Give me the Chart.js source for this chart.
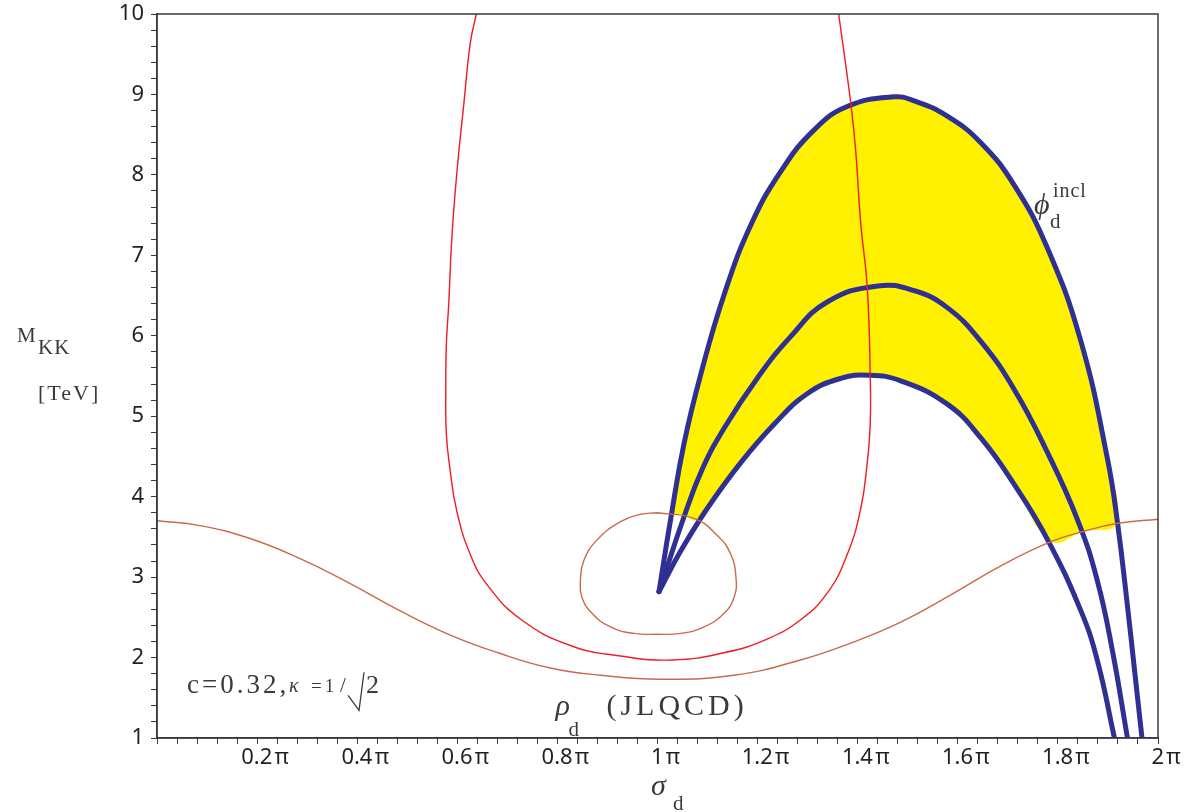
<!DOCTYPE html>
<html>
<head>
    <meta charset="UTF-8">
    <title>M_KK vs sigma_d</title>
    <script src="https://cdn.jsdelivr.net/npm/chart.js@4.4.1/dist/chart.umd.min.js"></script>
    <style type="text/css">
        body { margin: 0; background: #fff; }
        #plot { display: block; }
    </style>
</head>
<body>
    <canvas id="plot" width="1185" height="812"></canvas>
    <script type="text/javascript">
        // x in units of pi, y = M_KK in TeV
        var xMin = 0, xMax = 2, xStep = 0.04;
        var yMin = 1, yMax = 10, yStep = 0.2;

        // red contour (U shape)
        var redSigma = [0.638, 0.626, 0.613, 0.599, 0.589, 0.583, 0.578, 0.577, 0.578, 0.585, 0.599, 0.626, 0.659, 0.726, 0.826, 0.926,
                        1.030, 1.133, 1.219, 1.286, 1.339, 1.379, 1.406, 1.419, 1.425, 1.425, 1.419, 1.406, 1.396, 1.387, 1.362];
        var redMass = [10.0, 9.64, 8.88, 8.02, 7.21, 6.41, 5.87, 5.32, 4.79, 4.36, 3.82, 3.28, 2.91, 2.48, 2.15, 2.02,
                       1.97, 2.06, 2.23, 2.47, 2.80, 3.28, 3.85, 4.42, 4.90, 5.51, 6.61, 7.40, 8.30, 8.85, 10.0];

        // small closed loop around 1 pi
        var loopSigma = [0.999, 1.073, 1.119, 1.146, 1.157, 1.153, 1.133, 1.093, 1.046, 0.999, 0.953, 0.906, 0.869, 0.849, 0.846, 0.853, 0.879, 0.926, 0.966, 0.999];
        var loopMass = [3.80, 3.73, 3.52, 3.29, 2.98, 2.75, 2.55, 2.38, 2.30, 2.29, 2.30, 2.38, 2.55, 2.75, 2.96, 3.21, 3.46, 3.69, 3.78, 3.80];

        // rho_d (JLQCD) wide curve
        var rhoSigma = [0, 0.086, 0.186, 0.286, 0.386, 0.486, 0.586, 0.686, 0.786, 0.886, 1.006, 1.152, 1.286, 1.386, 1.486, 1.586, 1.686, 1.786, 1.852, 1.920, 2.0];
        var rhoMass = [3.70, 3.64, 3.48, 3.23, 2.92, 2.58, 2.28, 2.05, 1.87, 1.78, 1.73, 1.78, 1.97, 2.18, 2.44, 2.78, 3.14, 3.44, 3.57, 3.67, 3.72];

        // phi_d incl arcs (blue)
        var outerSigma = [1.003, 1.026, 1.053, 1.086, 1.133, 1.186, 1.246, 1.313, 1.379, 1.472, 1.513, 1.579, 1.646, 1.713, 1.779, 1.846, 1.899, 1.919, 1.939, 1.953, 1.968];
        var outerMass = [2.82, 3.71, 4.66, 5.51, 6.51, 7.37, 8.04, 8.56, 8.85, 8.97, 8.92, 8.73, 8.40, 7.87, 7.09, 5.93, 4.47, 3.68, 2.64, 1.85, 1.00];

        var middleSigma = [1.003, 1.053, 1.090, 1.133, 1.199, 1.266, 1.339, 1.440, 1.513, 1.579, 1.646, 1.713, 1.779, 1.840, 1.879, 1.910, 1.939];
        var middleMass = [2.82, 3.75, 4.35, 4.85, 5.47, 5.99, 6.42, 6.62, 6.56, 6.35, 5.93, 5.33, 4.55, 3.70, 2.95, 2.05, 1.00];

        var innerSigma = [1.003, 1.046, 1.099, 1.166, 1.233, 1.299, 1.366, 1.422, 1.486, 1.579, 1.646, 1.713, 1.779, 1.846, 1.879, 1.913];
        var innerMass = [2.82, 3.32, 3.85, 4.42, 4.90, 5.28, 5.47, 5.51, 5.44, 5.15, 4.73, 4.15, 3.47, 2.58, 1.96, 1.00];

        // allowed (yellow) region outline
        var allowedSigma = [1.028, 1.053, 1.086, 1.133, 1.186, 1.246, 1.313, 1.379, 1.472, 1.513, 1.579, 1.646, 1.713, 1.779, 1.846, 1.899, 1.916,
                            1.852, 1.786, 1.713, 1.646, 1.579, 1.486, 1.422, 1.366, 1.299, 1.233, 1.166, 1.099, 1.076, 1.052, 1.028];
        var allowedMass = [3.79, 4.66, 5.51, 6.51, 7.37, 8.04, 8.56, 8.85, 8.97, 8.92, 8.73, 8.40, 7.87, 7.09, 5.93, 4.47, 3.67,
                           3.57, 3.45, 4.15, 4.73, 5.15, 5.44, 5.51, 5.47, 5.28, 4.90, 4.42, 3.85, 3.71, 3.77, 3.79];

        function pts(xs, ys) {
            var out = [];
            for (var i = 0; i < xs.length; i++) out.push({ x: xs[i], y: ys[i] });
            return out;
        }

        var RED = "#ee1c24";
        var BROWN = "#c96a4c";
        var NAVY = "#2e3192";
        var YELLOW = "#fff100";

        function curve(data, color, width, order) {
            return {
                data: data,
                borderColor: color,
                borderWidth: width,
                borderCapStyle: "round",
                borderJoinStyle: "round",
                pointRadius: 0,
                fill: false,
                tension: 0.45,
                order: order
            };
        }

        var yellowSet = curve(pts(allowedSigma, allowedMass), YELLOW, 0, 5);
        yellowSet.fill = "shape";
        yellowSet.backgroundColor = YELLOW;

        var datasets = [
            curve(pts(redSigma, redMass), RED, 1.4, 0),
            curve(pts(loopSigma, loopMass), BROWN, 1.4, 0),
            curve(pts(rhoSigma, rhoMass), BROWN, 1.4, 0),
            curve(pts(outerSigma, outerMass), NAVY, 5, 2),
            curve(pts(middleSigma, middleMass), NAVY, 5, 2),
            curve(pts(innerSigma, innerMass), NAVY, 5, 2),
            yellowSet
        ];

        // text helper
        function txt(ctx, s, x, y, font, spacing) {
            ctx.font = font;
            ctx.letterSpacing = (spacing || 0) + "px";
            ctx.fillText(s, x, y);
            ctx.letterSpacing = "0px";
        }

        var decor = {
            id: "decor",
            afterDraw: function (chart) {
                var ctx = chart.ctx;
                var a = chart.chartArea;
                var sx = chart.scales.x, sy = chart.scales.y;
                ctx.save();
                // frame
                ctx.strokeStyle = "#3a3a3a";
                ctx.lineWidth = 1.5;
                ctx.strokeRect(a.left, a.top, a.right - a.left, a.bottom - a.top);

                ctx.fillStyle = "#3a3a3a";
                ctx.textAlign = "left";
                ctx.textBaseline = "alphabetic";
                var serif = "'Liberation Serif', serif";

                // y title
                txt(ctx, "M", 17, 342, "21px " + serif);
                txt(ctx, "KK", 38, 354, "21px " + serif, 1);
                txt(ctx, "[TeV]", 38, 400, "22px " + serif, 2);

                // x title
                txt(ctx, "\u03C3", 651, 795, "italic 30px " + serif);
                txt(ctx, "d", 673, 810, "21px " + serif);

                // parameters
                var px = sx.getPixelForValue(0.06), py = sy.getPixelForValue(1.556);
                txt(ctx, "c=0.32,", px, py, "27px " + serif, 3);
                txt(ctx, "\u03BA", px + 102, py - 1, "italic 20px " + serif);
                txt(ctx, "=1", px + 124, py - 1, "19px " + serif, 3);
                txt(ctx, "/", px + 153, py - 1, "21px " + serif);
                ctx.strokeStyle = "#3a3a3a";
                ctx.lineWidth = 1.3;
                ctx.beginPath();
                ctx.moveTo(px + 161, py + 2);
                ctx.lineTo(px + 172, py + 17);
                ctx.lineTo(px + 177, py - 21);
                ctx.stroke();
                txt(ctx, "2", px + 179, py, "26px " + serif);

                // rho_d (JLQCD)
                px = sx.getPixelForValue(0.80); py = sy.getPixelForValue(1.28);
                txt(ctx, "\u03C1", px - 2, py, "italic 30px " + serif);
                txt(ctx, "d", px + 11, py + 21, "21px " + serif);
                txt(ctx, "(JLQCD)", px + 49, py, "30px " + serif, 4);

                // phi_d incl
                px = sx.getPixelForValue(1.752); py = sy.getPixelForValue(7.52);
                txt(ctx, "\u03D5", px, py, "italic 30px " + serif);
                txt(ctx, "incl", px + 19, py - 17, "20px " + serif, 1);
                txt(ctx, "d", px + 16, py + 14, "21px " + serif);
                ctx.restore();
            }
        };

        function xLabel(value) {
            var v = Math.round(value * 100) / 100;
            if (v <= 0) return "";
            if (Math.abs(v * 5 - Math.round(v * 5)) > 1e-6) return "";
            return String(Math.round(v * 10) / 10) + "\u200A\u03C0";
        }

        function yLabel(value) {
            var v = Math.round(value * 100) / 100;
            if (Math.abs(v - Math.round(v)) > 1e-6) return "";
            return String(Math.round(v));
        }

        var tickFont = { family: "'Noto Sans', sans-serif", size: 22 };

        var chart = new Chart(document.getElementById("plot").getContext("2d"), {
            type: "line",
            data: { datasets: datasets },
            options: {
                responsive: false,
                animation: false,
                elements: { line: { tension: 0.45 }, point: { radius: 0 } },
                layout: { padding: { top: 14, right: 27, left: 0, bottom: 0 } },
                plugins: { legend: { display: false }, tooltip: { enabled: false } },
                scales: {
                    x: {
                        type: "linear",
                        min: xMin, max: xMax,
                        afterFit: function (s) { s.height = 74; s.paddingLeft = 0; s.paddingRight = 0; },
                        border: { display: true, color: "#3a3a3a", width: 1.5 },
                        grid: { drawOnChartArea: false, drawTicks: true, tickLength: 6, color: "#3a3a3a", lineWidth: 1 },
                        ticks: {
                            stepSize: xStep, maxTicksLimit: 100, autoSkip: false, maxRotation: 0,
                            padding: 1, labelOffset: 8, color: "#231f20", font: tickFont,
                            callback: xLabel
                        }
                    },
                    y: {
                        type: "linear",
                        min: yMin, max: yMax,
                        afterFit: function (s) { s.width = 157; s.paddingTop = 0; s.paddingBottom = 0; },
                        border: { display: true, color: "#3a3a3a", width: 1.5 },
                        grid: { drawOnChartArea: false, drawTicks: true, tickLength: 6, color: "#3a3a3a", lineWidth: 1 },
                        ticks: {
                            stepSize: yStep, maxTicksLimit: 100, autoSkip: false,
                            padding: 7, color: "#231f20", font: tickFont,
                            callback: yLabel
                        }
                    }
                }
            },
            plugins: [decor]
        });
    </script>
</body>
</html>
